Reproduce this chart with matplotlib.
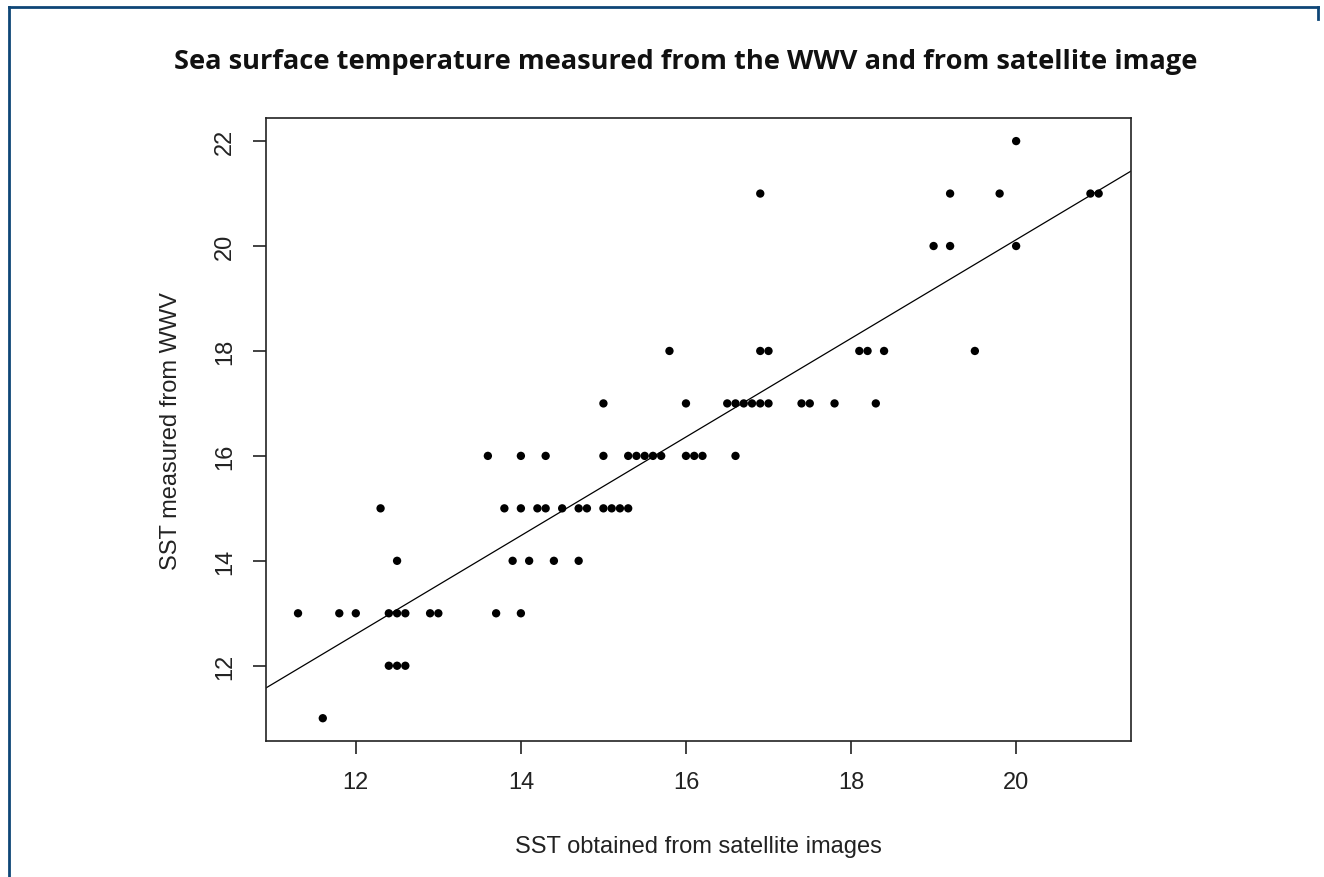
import numpy as np
import matplotlib
matplotlib.use("Agg")
import matplotlib.pyplot as plt
from matplotlib.lines import Line2D

# Data: satellite SST values for each WWV SST level
sst_wwv_11 = [11.6]
sst_wwv_12 = [12.4, 12.5, 12.6]
sst_wwv_13 = [11.3, 11.8, 12.0, 12.4, 12.5, 12.6, 12.9, 13.0, 13.7, 14.0]
sst_wwv_14 = [12.5, 13.9, 14.1, 14.4, 14.7]
sst_wwv_15 = [12.3, 13.8, 14.0, 14.2, 14.3, 14.5, 14.7, 14.8, 15.0, 15.1, 15.2, 15.3]
sst_wwv_16 = [13.6, 14.0, 14.3, 15.0, 15.3, 15.4, 15.5, 15.6, 15.7, 16.0, 16.1, 16.2, 16.6]
sst_wwv_17 = [15.0, 16.0, 16.5, 16.6, 16.7, 16.8, 16.9, 17.0, 17.4, 17.5, 17.8, 18.3]
sst_wwv_18 = [15.8, 16.9, 17.0, 18.1, 18.2, 18.4, 19.5]
sst_wwv_20 = [19.0, 19.2, 20.0]
sst_wwv_21 = [16.9, 19.2, 19.8, 20.9, 21.0]
sst_wwv_22 = [20.0]

# fitted regression line (abline)
fit_intercept = 1.32
fit_slope = 0.940

groups = {11: sst_wwv_11, 12: sst_wwv_12, 13: sst_wwv_13, 14: sst_wwv_14,
          15: sst_wwv_15, 16: sst_wwv_16, 17: sst_wwv_17, 18: sst_wwv_18,
          20: sst_wwv_20, 21: sst_wwv_21, 22: sst_wwv_22}
sat = np.array([x for k, v in groups.items() for x in v])
wwv = np.array([k for k, v in groups.items() for _ in v], dtype=float)

x_ticks = [12, 14, 16, 18, 20]
y_ticks = [12, 14, 16, 18, 20, 22]

title = "Sea surface temperature measured from the WWV and from satellite image"
xlabel = "SST obtained from satellite images"
ylabel = "SST measured from WWV"

W, H = 1324, 878
fig = plt.figure(figsize=(W / 100, H / 100), dpi=100)
fig.patch.set_facecolor("white")

# card border (top and left, dark blue)
border_col = "#0e4677"
fig.add_artist(Line2D([9 / W, 1318 / W], [1 - 8 / H, 1 - 8 / H], color=border_col, lw=2.0))
fig.add_artist(Line2D([9 / W, 9 / W], [0, 1 - 8 / H], color=border_col, lw=2.0))
fig.add_artist(Line2D([1318 / W, 1318 / W], [1 - 8 / H, 1 - 20 / H], color=border_col, lw=2.0))

fig.text(686 / W, 1 - 62 / H, title, ha="center", va="center",
         fontsize=19.6, fontweight="bold", family=["Open Sans", "DejaVu Sans"], color="#111111")

ax = fig.add_axes([266 / W, 1 - 742.3 / H, (1130.7 - 266) / W, (742.3 - 119) / H])

ax.scatter(sat, wwv, s=6.0 ** 2, color="black", edgecolors="none", zorder=3)

xr = np.array([10, 22])
ax.plot(xr, fit_intercept + fit_slope * xr, color="black", lw=0.9, zorder=2)

xmin, xmax = sat.min(), sat.max()
ymin, ymax = wwv.min(), wwv.max()
dx = (xmax - xmin) * 0.04
dy = (ymax - ymin) * 0.04
ax.set_xlim(xmin - dx, xmax + dx)
ax.set_ylim(ymin - dy, ymax + dy)

ax.set_xticks(x_ticks)
ax.set_yticks(y_ticks)
ax.set_xticklabels([str(t) for t in x_ticks])
ax.set_yticklabels([str(t) for t in y_ticks], rotation=90, va="center")
for s in ax.spines.values():
    s.set_linewidth(1.2)
    s.set_color("#222222")
ax.tick_params(direction="out", length=9.5, width=1.2, color="#222222",
               labelsize=17, pad=12)
for lab in ax.get_xticklabels() + ax.get_yticklabels():
    lab.set_family(["Liberation Sans", "DejaVu Sans"])
    lab.set_color("#222222")

ax.set_xlabel(xlabel, fontsize=17, family=["Liberation Sans", "DejaVu Sans"],
              color="#222222", labelpad=30)
ax.set_ylabel(ylabel, fontsize=17, family=["Liberation Sans", "DejaVu Sans"],
              color="#222222", labelpad=23)

fig.savefig("out.png", dpi=100, facecolor="white")
